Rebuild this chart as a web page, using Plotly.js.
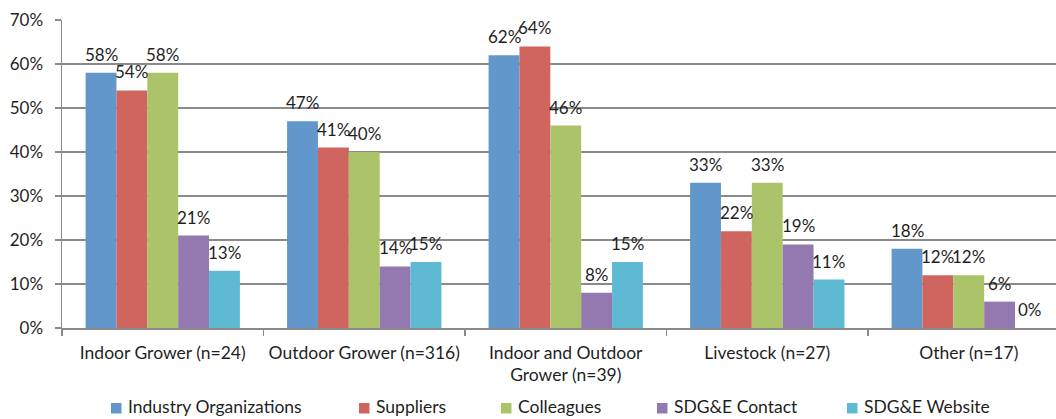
<!DOCTYPE html>
<html>
<head>
<meta charset="utf-8">
<script src="https://cdn.plot.ly/plotly-3.0.1.min.js"></script>
<style>
  html, body { margin: 0; padding: 0; background: #ffffff; }
  #chart { width: 1056px; height: 419px; }
</style>
</head>
<body>
<div id="chart"></div>
<script>
// Respondent segments (x categories)
const categories = [
  'Indoor Grower (n=24)',
  'Outdoor Grower (n=316)',
  'Indoor and Outdoor<br>Grower (n=39)',
  'Livestock (n=27)',
  'Other (n=17)'
];

// Share of respondents (%) naming each information source
const industryOrganizations = [58, 47, 62, 33, 18];
const suppliers             = [54, 41, 64, 22, 12];
const colleagues            = [58, 40, 46, 33, 12];
const sdgeContact           = [21, 14, 8, 19, 6];
const sdgeWebsite           = [13, 15, 15, 11, 0];

const seriesNames  = ['Industry Organizations', 'Suppliers', 'Colleagues', 'SDG&E Contact', 'SDG&E Website'];
const seriesValues = [industryOrganizations, suppliers, colleagues, sdgeContact, sdgeWebsite];
const seriesColors = ['#6197CB', '#D0655F', '#ABC46A', '#9479B1', '#5EBAD3'];

// Geometry of the drawing
const W = 1056, H = 419;
const M = { l: 62, r: 0, t: 20, b: 91 };
const plotW = W - M.l - M.r;
const plotH = H - M.t - M.b;
const catPx = 201.5;                       // width of one category slot
const bargap = 0.234;
const xRange = [-0.5, -0.5 + plotW / catPx];
const barPx = catPx * (1 - bargap) / seriesNames.length;

const FONT = 'Lato, "Open Sans", "DejaVu Sans", sans-serif';
const TEXT = '#1f1f1f';
const GRID = '#8a8a8a';
const LABEL_SIZE = 17.5;
const NUM_SIZE = 17;

const traces = seriesNames.map((name, i) => ({
  type: 'bar',
  name: name,
  x: categories,
  y: seriesValues[i],
  marker: { color: seriesColors[i], line: { width: 0 } },
  hoverinfo: 'skip'
}));

// Value labels above each bar
const annotations = [];
seriesValues.forEach((vals, i) => {
  vals.forEach((v, j) => {
    annotations.push({
      x: j, y: v, xref: 'x', yref: 'y',
      xshift: (i - (seriesNames.length - 1) / 2) * barPx,
      yshift: 6,
      yanchor: 'bottom', xanchor: 'center',
      text: v + '%', showarrow: false,
      font: { family: FONT, size: NUM_SIZE, color: TEXT }
    });
  });
});

// Legend row along the bottom edge
const px2x = px => (px - M.l) / plotW;
const px2y = py => (M.t + plotH - py) / plotH;
const legendLeft = [111, 359, 501, 657, 847];
const shapes = [];
seriesNames.forEach((name, i) => {
  const x0 = legendLeft[i];
  shapes.push({
    type: 'rect', xref: 'paper', yref: 'paper',
    x0: px2x(x0), x1: px2x(x0 + 10.5),
    y0: px2y(403), y1: px2y(413.5),
    fillcolor: seriesColors[i], line: { width: 0 }
  });
  annotations.push({
    xref: 'paper', yref: 'paper',
    x: px2x(x0 + 15), y: px2y(419),
    xanchor: 'left', yanchor: 'bottom',
    text: name, showarrow: false,
    font: { family: FONT, size: LABEL_SIZE, color: TEXT }
  });
});

const layout = {
  width: W, height: H,
  margin: M,
  paper_bgcolor: '#ffffff',
  plot_bgcolor: '#ffffff',
  font: { family: FONT, size: LABEL_SIZE, color: TEXT },
  showlegend: false,
  barmode: 'group',
  bargap: bargap,
  bargroupgap: 0,
  xaxis: {
    type: 'category',
    range: xRange,
    tickson: 'boundaries',
    ticks: 'outside', ticklen: 6, tickwidth: 1.2, tickcolor: GRID,
    showline: true, linecolor: GRID, linewidth: 1.5,
    showgrid: false, zeroline: false,
    ticklabelstandoff: 8,
    tickfont: { family: FONT, size: LABEL_SIZE, color: TEXT },
    fixedrange: true
  },
  yaxis: {
    range: [0, 70], dtick: 10, tick0: 0,
    ticksuffix: '%',
    ticks: 'outside', ticklen: 6, tickwidth: 1.2, tickcolor: GRID,
    showline: true, linecolor: GRID, linewidth: 1.5,
    showgrid: true, gridcolor: GRID, gridwidth: 1.2,
    zeroline: false,
    ticklabelstandoff: 8,
    tickfont: { family: FONT, size: NUM_SIZE, color: TEXT },
    fixedrange: true
  },
  annotations: annotations,
  shapes: shapes,
  hovermode: false
};

Plotly.newPlot('chart', traces, layout, { staticPlot: true, displayModeBar: false });
</script>
</body>
</html>
